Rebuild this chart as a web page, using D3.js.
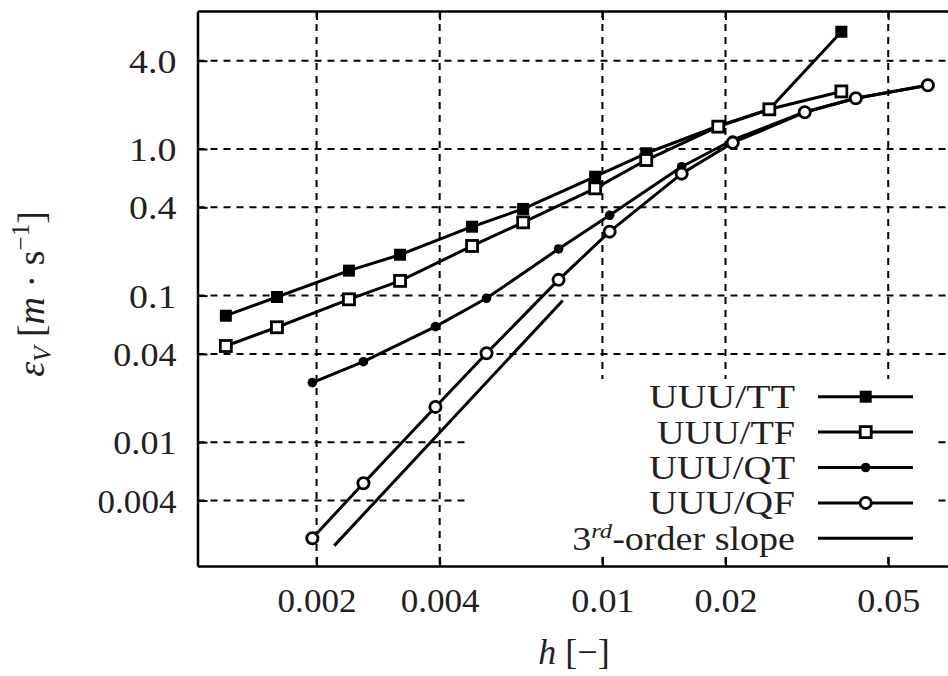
<!DOCTYPE html>
<html>
<head>
<meta charset="utf-8">
<script src="https://cdn.jsdelivr.net/npm/d3@7"></script>
<style>
  html, body { margin: 0; padding: 0; background: #fff; }
  svg { display: block; }
  text { font-family: "Liberation Serif", "Times New Roman", serif; fill: #231f20; }
</style>
</head>
<body>
<svg id="chart" width="948" height="676"></svg>
<script>
// ---- data ----
const hT = [0.0012, 0.0016, 0.0024, 0.0032, 0.0048, 0.0064, 0.0096, 0.0128, 0.0192, 0.0256, 0.0384];
const errTT = [0.0729, 0.0978, 0.148, 0.190, 0.295, 0.390, 0.647, 0.935, 1.435, 1.865, 6.31];
const errTF = [0.0453, 0.0608, 0.0943, 0.126, 0.218, 0.316, 0.539, 0.841, 1.42, 1.865, 2.47];
const hQ = [1/512, 1/384, 1/256, 1/192, 1/128, 1/96, 1/64, 1/48, 1/32, 1/24, 1/16];
const errQT = [0.0255, 0.0354, 0.0614, 0.0959, 0.208, 0.353, 0.757, 1.152, 1.79, 2.22, 2.72];
const errQF = [0.00221, 0.00525, 0.0174, 0.0404, 0.128, 0.273, 0.679, 1.104, 1.78, 2.22, 2.72];
const hSlope = [0.00221, 0.0080];
const errSlope = [0.00197, 0.0926];

const xTicks = [0.002, 0.004, 0.01, 0.02, 0.05];
const xTickLabels = ["0.002", "0.004", "0.01", "0.02", "0.05"];
const yTicks = [0.004, 0.01, 0.04, 0.1, 0.4, 1.0, 4.0];
const yTickLabels = ["0.004", "0.01", "0.04", "0.1", "0.4", "1.0", "4.0"];

const seriesNames = ["UUU/TT", "UUU/TF", "UUU/QT", "UUU/QF"];
const seriesMarkers = ["fsquare", "osquare", "fcircle", "ocircle"];

// ---- layout ----
const svg = d3.select("#chart");
const pL = 197.5, pT = 11, pB = 566, pR = 960;
const x = d3.scaleLog().domain([0.001023, 0.0749]).range([pL, pR]);
const y = d3.scaleLog().domain([0.00143, 8.737]).range([pB, pT]);

const gridDash = "7,6";
const grid = svg.append("g");
xTicks.forEach(t => {
  grid.append("line").attr("x1", x(t)).attr("x2", x(t)).attr("y1", pT).attr("y2", pB)
    .attr("stroke", "#000").attr("stroke-width", 2).attr("stroke-dasharray", gridDash);
});
yTicks.forEach(t => {
  grid.append("line").attr("x1", pL).attr("x2", pR).attr("y1", y(t)).attr("y2", y(t))
    .attr("stroke", "#000").attr("stroke-width", 2).attr("stroke-dasharray", gridDash);
});

// legend background (opaque key)
const keyBox = {x0: 469, x1: 935, y0: 379, y1: 557};
svg.append("rect").attr("x", keyBox.x0).attr("y", keyBox.y0)
  .attr("width", keyBox.x1 - keyBox.x0).attr("height", keyBox.y1 - keyBox.y0).attr("fill", "#fff");

// axes with inner ticks
const axB = d3.axisBottom(x).tickValues(xTicks).tickSizeInner(-9).tickSizeOuter(0).tickFormat((d, i) => xTickLabels[i]);
const axT = d3.axisTop(x).tickValues(xTicks).tickSizeInner(-9).tickSizeOuter(0).tickFormat("");
const axL = d3.axisLeft(y).tickValues(yTicks).tickSizeInner(-10).tickSizeOuter(0).tickFormat((d, i) => yTickLabels[i]);

const gB = svg.append("g").attr("transform", `translate(0,${pB})`).call(axB);
const gT = svg.append("g").attr("transform", `translate(0,${pT})`).call(axT);
const gL = svg.append("g").attr("transform", `translate(${pL},0)`).call(axL);
[gB, gT, gL].forEach(g => {
  g.select(".domain").attr("stroke", "#000").attr("stroke-width", 2.5);
  g.selectAll(".tick line").attr("stroke", "#000").attr("stroke-width", 2);
});
gB.selectAll(".tick text").attr("font-size", 34).attr("dy", 0).attr("y", 46)
  .attr("font-family", "Liberation Serif").attr("fill", "#231f20")
  .attr("textLength", (d, i) => xTickLabels[i].length * 15.8).attr("lengthAdjust", "spacingAndGlyphs");
gL.selectAll(".tick text").attr("font-size", 34).attr("x", -21).attr("dy", "0.34em")
  .attr("font-family", "Liberation Serif").attr("fill", "#231f20")
  .attr("textLength", (d, i) => yTickLabels[i].length * 15.8).attr("lengthAdjust", "spacingAndGlyphs");

// ---- series ----
const line = d3.line().x(d => x(d[0])).y(d => y(d[1]));
const plotG = svg.append("g");

function drawMarker(g, type, cx, cy) {
  if (type === "fsquare") {
    g.append("rect").attr("x", cx - 6).attr("y", cy - 6).attr("width", 12).attr("height", 12).attr("fill", "#000");
  } else if (type === "osquare") {
    g.append("rect").attr("x", cx - 5.5).attr("y", cy - 5.5).attr("width", 11).attr("height", 11)
      .attr("fill", "#fff").attr("stroke", "#000").attr("stroke-width", 2.8);
  } else if (type === "fcircle") {
    g.append("circle").attr("cx", cx).attr("cy", cy).attr("r", 4.8).attr("fill", "#000");
  } else if (type === "ocircle") {
    g.append("circle").attr("cx", cx).attr("cy", cy).attr("r", 5.6)
      .attr("fill", "#fff").attr("stroke", "#000").attr("stroke-width", 2.8);
  }
}

const series = [
  {h: hT, v: errTT},
  {h: hT, v: errTF},
  {h: hQ, v: errQT},
  {h: hQ, v: errQF}
];
series.forEach((s, i) => {
  const pts = s.h.map((h, j) => [h, s.v[j]]);
  plotG.append("path").attr("d", line(pts)).attr("fill", "none").attr("stroke", "#000")
    .attr("stroke-width", 3).attr("stroke-linejoin", "round");
  pts.forEach(p => drawMarker(plotG, seriesMarkers[i], x(p[0]), y(p[1])));
});
// 3rd-order slope line
plotG.append("path").attr("d", line(hSlope.map((h, j) => [h, errSlope[j]])))
  .attr("fill", "none").attr("stroke", "#000").attr("stroke-width", 3);

// ---- legend ----
const legRowY = [396.7, 432.1, 467.5, 502.9, 538.3];
const legWidths = [146, 138, 146, 146, 229];
const leg = svg.append("g");
seriesNames.forEach((name, i) => {
  leg.append("text").attr("x", 795 - legWidths[i]).attr("y", legRowY[i] + 11.5)
    .attr("font-size", 34).attr("textLength", legWidths[i]).attr("lengthAdjust", "spacingAndGlyphs").text(name);
  leg.append("line").attr("x1", 818).attr("x2", 913).attr("y1", legRowY[i]).attr("y2", legRowY[i])
    .attr("stroke", "#000").attr("stroke-width", 3);
  drawMarker(leg, seriesMarkers[i], 865.7, legRowY[i]);
});
const slopeG = leg.append("g").attr("transform", `translate(795,${legRowY[4] + 11.5}) scale(1.12,1)`);
const slopeText = slopeG.append("text").attr("x", 0).attr("y", 0)
  .attr("text-anchor", "end").attr("font-size", 34);
slopeText.append("tspan").text("3");
slopeText.append("tspan").attr("font-style", "italic").attr("font-size", 22).attr("dy", -12).text("rd");
slopeText.append("tspan").attr("dy", 12).text("-order slope");
leg.append("line").attr("x1", 818).attr("x2", 913).attr("y1", legRowY[4]).attr("y2", legRowY[4])
  .attr("stroke", "#000").attr("stroke-width", 3);

// ---- axis labels ----
const xl = svg.append("text").attr("x", 574).attr("y", 664).attr("text-anchor", "middle").attr("font-size", 36);
xl.append("tspan").attr("font-style", "italic").text("h");
xl.append("tspan").text(" [\u2212]");

const yl = svg.append("text").attr("transform", "translate(44,294) rotate(-90)")
  .attr("text-anchor", "middle").attr("font-size", 38);
yl.append("tspan").attr("font-style", "italic").text("\u03b5");
yl.append("tspan").attr("font-size", 25).attr("dy", 7).attr("font-style", "italic").text("V");
yl.append("tspan").attr("dy", -7).text(" [");
yl.append("tspan").attr("font-style", "italic").text("m");
yl.append("tspan").text(" \u00b7 s");
yl.append("tspan").attr("font-size", 25).attr("dy", -15).text("\u22121");
yl.append("tspan").attr("dy", 15).text("]");
</script>
</body>
</html>
